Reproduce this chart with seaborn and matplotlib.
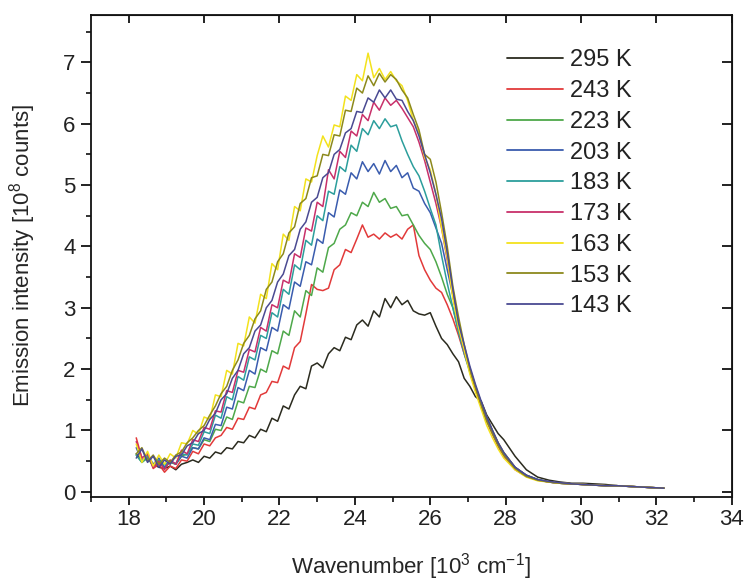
import numpy as np
import pandas as pd
import matplotlib
matplotlib.use("Agg")
import matplotlib.pyplot as plt
from matplotlib.ticker import MultipleLocator
import seaborn as sns

# Wavenumber axis in 10^3 cm^-1
wavenumber = [
    18.20, 18.35, 18.50, 18.65, 18.80, 18.95, 19.10, 19.25, 19.40, 19.55,
    19.70, 19.85, 20.00, 20.15, 20.30, 20.45, 20.60, 20.75, 20.90, 21.05,
    21.20, 21.35, 21.50, 21.65, 21.80, 21.95, 22.10, 22.25, 22.40, 22.55,
    22.70, 22.85, 23.00, 23.15, 23.30, 23.45, 23.60, 23.75, 23.90, 24.05,
    24.20, 24.35, 24.50, 24.65, 24.80, 24.95, 25.10, 25.25, 25.40, 25.55,
    25.70, 25.85, 26.00, 26.15, 26.30, 26.45, 26.60, 26.75, 26.90, 27.05,
    27.20, 27.35, 27.50, 27.65, 27.80, 27.95, 28.25, 28.55, 28.85, 29.15,
    29.45, 29.75, 30.05, 30.35, 30.65, 30.95, 31.25, 31.55, 31.85, 32.20,
]

# Emission intensity in 10^8 counts, one spectrum per temperature
i_295 = [
    .62, .50, .55, .45, .40, .38, .42, .36, .45, .48,
    .52, .48, .58, .55, .65, .62, .72, .70, .82, .80,
    .92, .88, 1.02, .98, 1.20, 1.15, 1.40, 1.35, 1.58, 1.72,
    1.68, 2.05, 2.10, 2.02, 2.25, 2.35, 2.30, 2.52, 2.48, 2.72,
    2.80, 2.70, 2.95, 2.85, 3.15, 3.00, 3.18, 3.05, 3.12, 2.95,
    2.90, 2.88, 2.92, 2.70, 2.50, 2.40, 2.25, 2.12, 1.85, 1.72,
    1.55, 1.48, 1.25, 1.10, .95, .85, .58, .36, .24, .19,
    .16, .14, .14, .13, .12, .10, .09, .08, .07, .06,
]
i_243 = [
    .88, .55, .62, .38, .45, .32, .42, .38, .52, .50,
    .66, .62, .78, .75, .88, .92, 1.05, 1.02, 1.20, 1.18,
    1.38, 1.35, 1.58, 1.62, 1.80, 1.78, 2.05, 2.00, 2.35, 2.45,
    2.90, 3.38, 3.30, 3.28, 3.32, 3.62, 3.70, 3.95, 3.90, 4.12,
    4.35, 4.15, 4.20, 4.12, 4.22, 4.15, 4.20, 4.12, 4.28, 4.35,
    3.85, 3.62, 3.45, 3.32, 3.25, 3.05, 2.82, 2.55, 2.25, 1.98,
    1.70, 1.45, 1.22, 1.00, .80, .64, .40, .27, .20, .16,
    .14, .13, .12, .11, .10, .10, .09, .08, .07, .06,
]
i_223 = [
    .60, .48, .55, .42, .48, .40, .48, .45, .58, .62,
    .72, .70, .85, .82, 1.02, 1.00, 1.22, 1.18, 1.48, 1.45,
    1.72, 1.70, 2.00, 1.95, 2.30, 2.25, 2.62, 2.55, 2.95, 2.85,
    3.28, 3.20, 3.65, 3.58, 3.98, 4.05, 4.28, 4.35, 4.55, 4.50,
    4.72, 4.65, 4.88, 4.72, 4.78, 4.62, 4.65, 4.50, 4.52, 4.35,
    4.18, 4.05, 3.95, 3.75, 3.50, 3.22, 3.00, 2.62, 2.30, 2.00,
    1.72, 1.45, 1.22, 1.00, .80, .64, .40, .27, .20, .16,
    .14, .13, .12, .11, .10, .10, .09, .08, .07, .06,
]
i_203 = [
    .72, .50, .62, .45, .55, .40, .50, .45, .58, .55,
    .72, .70, .88, .85, 1.10, 1.08, 1.38, 1.35, 1.70, 1.65,
    1.98, 1.92, 2.35, 2.30, 2.68, 2.62, 3.05, 2.98, 3.42, 3.35,
    3.75, 3.70, 4.12, 4.05, 4.55, 4.48, 4.92, 4.85, 5.20, 5.10,
    5.38, 5.22, 5.35, 5.18, 5.40, 5.22, 5.32, 5.12, 5.20, 4.95,
    4.90, 4.70, 4.55, 4.30, 4.05, 3.62, 3.20, 2.75, 2.35, 2.02,
    1.72, 1.45, 1.20, .98, .78, .62, .40, .27, .20, .16,
    .14, .13, .12, .11, .10, .10, .09, .08, .07, .06,
]
i_183 = [
    .60, .48, .58, .42, .52, .44, .50, .46, .62, .60,
    .78, .76, .98, .95, 1.25, 1.20, 1.55, 1.50, 1.88, 1.82,
    2.20, 2.15, 2.55, 2.50, 2.92, 2.85, 3.30, 3.22, 3.70, 3.62,
    4.10, 4.02, 4.50, 4.42, 4.90, 4.85, 5.30, 5.22, 5.65, 5.55,
    5.92, 5.82, 6.05, 5.92, 6.08, 5.95, 5.98, 5.72, 5.50, 5.30,
    5.15, 4.90, 4.62, 4.35, 3.85, 3.40, 3.00, 2.60, 2.25, 1.95,
    1.68, 1.42, 1.18, .96, .76, .60, .38, .26, .20, .16,
    .14, .13, .12, .11, .10, .10, .09, .08, .07, .06,
]
i_173 = [
    .82, .55, .62, .40, .50, .36, .52, .45, .68, .62,
    .85, .82, 1.05, 1.02, 1.32, 1.30, 1.65, 1.62, 1.98, 1.95,
    2.32, 2.28, 2.68, 2.62, 3.05, 3.00, 3.45, 3.40, 3.88, 3.82,
    4.30, 4.25, 4.72, 4.65, 5.25, 5.10, 5.55, 5.45, 5.88, 5.80,
    6.15, 6.05, 6.35, 6.22, 6.42, 6.30, 6.38, 6.25, 6.10, 5.95,
    5.70, 5.40, 5.05, 4.70, 4.30, 3.78, 3.20, 2.70, 2.30, 1.98,
    1.66, 1.40, 1.15, .94, .74, .58, .36, .25, .19, .16,
    .14, .13, .12, .11, .10, .10, .09, .08, .07, .06,
]
i_163 = [
    .78, .48, .66, .42, .60, .45, .62, .55, .80, .78,
    1.00, .94, 1.22, 1.18, 1.58, 1.55, 1.98, 1.92, 2.42, 2.38,
    2.85, 2.75, 3.22, 3.15, 3.72, 3.62, 4.20, 4.10, 4.65, 4.58,
    5.10, 5.05, 5.48, 5.80, 5.62, 5.98, 5.95, 6.45, 6.38, 6.80,
    6.70, 7.15, 6.75, 6.90, 6.72, 6.85, 6.70, 6.62, 6.38, 6.05,
    5.85, 5.45, 5.25, 4.85, 4.30, 3.82, 3.15, 2.68, 2.32, 1.92,
    1.62, 1.35, 1.08, .88, .70, .55, .36, .24, .18, .16,
    .14, .13, .12, .11, .10, .10, .09, .08, .07, .06,
]
i_153 = [
    .62, .72, .50, .60, .45, .55, .48, .60, .65, .80,
    .88, 1.00, 1.08, 1.25, 1.40, 1.60, 1.72, 1.98, 2.15, 2.42,
    2.55, 2.82, 2.95, 3.30, 3.42, 3.75, 3.88, 4.22, 4.32, 4.70,
    4.78, 5.12, 5.15, 5.50, 5.48, 5.82, 5.80, 6.22, 6.20, 6.58,
    6.50, 6.78, 6.62, 6.82, 6.68, 6.80, 6.72, 6.55, 6.42, 6.15,
    5.90, 5.50, 5.42, 5.05, 4.55, 4.00, 3.35, 2.85, 2.40, 2.00,
    1.70, 1.42, 1.15, .95, .76, .60, .38, .25, .19, .16,
    .14, .13, .12, .11, .10, .10, .09, .08, .07, .06,
]
i_143 = [
    .55, .70, .48, .58, .40, .52, .45, .58, .60, .75,
    .80, .95, 1.00, 1.18, 1.28, 1.50, 1.60, 1.85, 1.98, 2.25,
    2.35, 2.62, 2.72, 3.00, 3.12, 3.42, 3.55, 3.85, 3.95, 4.28,
    4.40, 4.72, 4.80, 5.12, 5.20, 5.50, 5.58, 5.85, 5.92, 6.20,
    6.18, 6.42, 6.35, 6.55, 6.42, 6.55, 6.40, 6.38, 6.20, 6.05,
    5.80, 5.50, 5.20, 4.85, 4.45, 3.90, 3.30, 2.75, 2.40, 2.05,
    1.75, 1.48, 1.22, 1.00, .80, .64, .40, .27, .20, .17,
    .15, .13, .12, .11, .10, .10, .09, .08, .07, .06,
]

temperatures = ["295 K", "243 K", "223 K", "203 K", "183 K",
                "173 K", "163 K", "153 K", "143 K"]
spectra = [i_295, i_243, i_223, i_203, i_183, i_173, i_163, i_153, i_143]
colors = ["#2b2b1f", "#e23a3a", "#4ea84a", "#3a5cae", "#2c9e9c",
          "#c8306a", "#f3e21c", "#8c891c", "#4a4a92"]

frames = []
for name, vals in zip(temperatures, spectra):
    assert len(vals) == len(wavenumber)
    frames.append(pd.DataFrame({"x": wavenumber, "y": vals, "T": name}))
df = pd.concat(frames, ignore_index=True)

sns.set_style("ticks")
plt.rcParams["font.family"] = ["Liberation Sans", "DejaVu Sans"]
plt.rcParams["mathtext.default"] = "regular"
plt.rcParams["text.color"] = "#222222"

fig = plt.figure(figsize=(7.46, 5.81), dpi=100)
ax = fig.add_axes([0.122, 0.145, 0.859, 0.829])

sns.lineplot(data=df, x="x", y="y", hue="T", hue_order=temperatures,
             palette=dict(zip(temperatures, colors)), estimator=None,
             sort=False, linewidth=1.1, ax=ax)

ax.set_xlim(17, 34)
ax.set_ylim(-0.08, 7.77)
ax.xaxis.set_major_locator(MultipleLocator(2))
ax.xaxis.set_minor_locator(MultipleLocator(1))
ax.yaxis.set_major_locator(MultipleLocator(1))
ax.yaxis.set_minor_locator(MultipleLocator(0.5))

for s in ax.spines.values():
    s.set_linewidth(1.3)
    s.set_color("#111111")

ax.tick_params(axis="both", which="major", direction="out", length=6,
               width=1.3, labelsize=16, colors="#111111", labelcolor="#222222")
ax.tick_params(axis="x", which="major", pad=3)
ax.tick_params(axis="y", which="major", length=7, pad=4)
ax.tick_params(axis="both", which="minor", direction="out", length=3.5,
               width=1.2, colors="#111111")

# Mirrored ticks on top and right point into the plot
top = ax.secondary_xaxis("top")
top.xaxis.set_major_locator(MultipleLocator(2))
top.tick_params(axis="x", direction="in", length=6, width=1.3,
                labeltop=False, labelbottom=False, colors="#111111")
right = ax.secondary_yaxis("right")
right.yaxis.set_major_locator(MultipleLocator(1))
right.tick_params(axis="y", direction="in", length=7, width=1.3,
                  labelright=False, labelleft=False, colors="#111111")

ax.set_xlabel("Wavenumber [10$^3$ cm$^{-1}$]", fontsize=16, labelpad=15)
ax.set_ylabel("Emission intensity [10$^8$ counts]", fontsize=16, labelpad=18)

leg = ax.legend(loc="upper left", bbox_to_anchor=(0.68, 0.915),
                bbox_transform=fig.transFigure, frameon=False,
                fontsize=17, handlelength=2.37, handletextpad=0.3,
                labelspacing=0.37, borderpad=0, borderaxespad=0)
for line in leg.get_lines():
    line.set_linewidth(1.3)

fig.savefig("out.png", dpi=100)
